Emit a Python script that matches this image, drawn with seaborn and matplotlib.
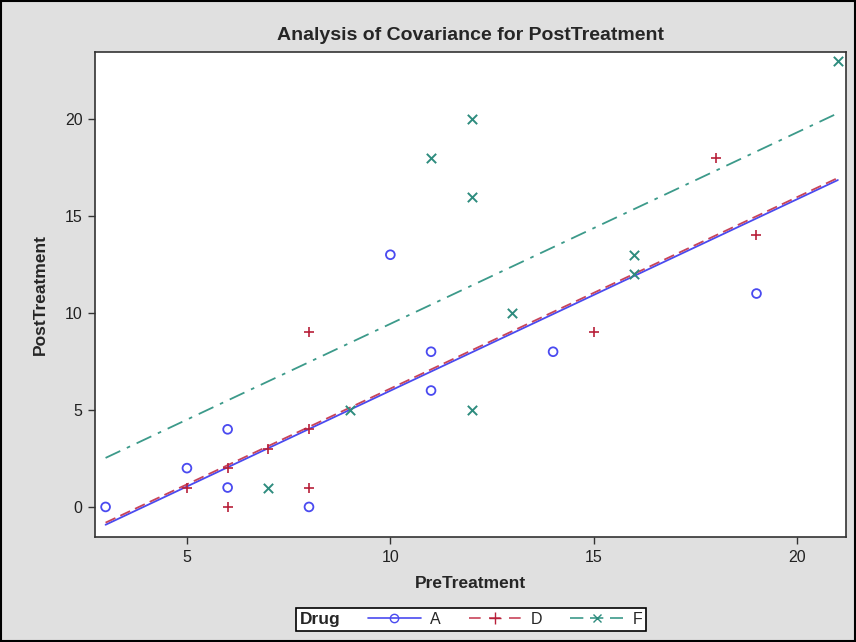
import numpy as np
import pandas as pd
import matplotlib
matplotlib.use("Agg")
import matplotlib.pyplot as plt
import seaborn as sns
from matplotlib.lines import Line2D
from matplotlib.patches import Rectangle

drug_a_pre = [11, 8, 5, 14, 19, 6, 10, 6, 11, 3]
drug_a_post = [6, 0, 2, 8, 11, 4, 13, 1, 8, 0]
drug_d_pre = [6, 6, 7, 8, 18, 8, 19, 8, 5, 15]
drug_d_post = [0, 2, 3, 1, 18, 4, 14, 9, 1, 9]
drug_f_pre = [16, 13, 11, 9, 21, 16, 12, 12, 7, 12]
drug_f_post = [13, 10, 18, 5, 23, 12, 5, 16, 1, 20]
drugs = ["A", "D", "F"]
x_ticks = [5, 10, 15, 20]
y_ticks = [0, 5, 10, 15, 20]

df = pd.DataFrame({
    "PreTreatment": drug_a_pre + drug_d_pre + drug_f_pre,
    "PostTreatment": drug_a_post + drug_d_post + drug_f_post,
    "Drug": ["A"] * len(drug_a_pre) + ["D"] * len(drug_d_pre) + ["F"] * len(drug_f_pre),
})

# ANCOVA fit: common slope, separate intercepts
X = np.column_stack([df["PreTreatment"]] + [(df["Drug"] == d).astype(float) for d in drugs])
coef, *_ = np.linalg.lstsq(X, df["PostTreatment"].to_numpy(float), rcond=None)
slope = coef[0]
xmin, xmax = df["PreTreatment"].min(), df["PreTreatment"].max()
fit_rows = []
for i, d in enumerate(drugs):
    for xv in (xmin, xmax):
        fit_rows.append({"PreTreatment": xv, "PostTreatment": coef[1 + i] + slope * xv, "Drug": d})
fit = pd.DataFrame(fit_rows)

sns.set_theme(style="white")
plt.rcParams["font.family"] = ["Liberation Sans", "DejaVu Sans"]

colors = {"A": "#4A4AF0", "D": "#B8203A", "F": "#2E8C7E"}
line_colors = {"A": "#4A4AF0", "D": "#C8445A", "F": "#3C9A8A"}
styles = {"A": "-", "D": (0, (6, 3)), "F": (0, (9, 4, 2, 4))}

fig = plt.figure(figsize=(8.56, 6.42), dpi=100)
fig.patch.set_facecolor("#E0E0E0")
ax = fig.add_axes([95 / 856, 1 - 537 / 642, (846 - 95) / 856, (537 - 52) / 642])
ax.set_facecolor("white")

for d in drugs:
    sub = fit[fit["Drug"] == d]
    sns.lineplot(data=sub, x="PreTreatment", y="PostTreatment", ax=ax, color=line_colors[d],
                 linestyle=styles[d], linewidth=1.3, legend=False, zorder=2)

pts = df[df["Drug"] == "A"]
sns.scatterplot(data=pts, x="PreTreatment", y="PostTreatment", ax=ax, marker="o", s=40,
                facecolor="none", edgecolor=colors["A"], linewidth=1.3, legend=False, zorder=3)
pts = df[df["Drug"] == "D"]
sns.scatterplot(data=pts, x="PreTreatment", y="PostTreatment", ax=ax, marker="+", s=60,
                color=colors["D"], linewidth=1.2, legend=False, zorder=3)
pts = df[df["Drug"] == "F"]
sns.scatterplot(data=pts, x="PreTreatment", y="PostTreatment", ax=ax, marker="x", s=45,
                color=colors["F"], linewidth=1.4, legend=False, zorder=3)

ax.set_xlim(2.74, 21.2)
ax.set_ylim(-1.55, 23.45)
ax.set_xticks(x_ticks)
ax.set_yticks(y_ticks)
ax.tick_params(axis="both", direction="out", length=5, width=1, color="#333333",
               labelsize=11.5, labelcolor="#222222", bottom=True, left=True, pad=4)
for s in ax.spines.values():
    s.set_color("#333333")
    s.set_linewidth(1.2)
ax.set_xlabel("PreTreatment", fontsize=12.5, fontweight="bold", labelpad=8)
ax.set_ylabel("PostTreatment", fontsize=12.5, fontweight="bold", labelpad=12)
ax.set_title("Analysis of Covariance for PostTreatment", fontsize=14, fontweight="bold", pad=9)

handles = [
    Line2D([], [], color=line_colors["A"], linestyle="-", marker="o", markerfacecolor="none",
           markeredgecolor=colors["A"], markersize=6, linewidth=1.2),
    Line2D([], [], color=line_colors["D"], linestyle=(0, (7, 5)), marker="+",
           markeredgecolor=colors["D"], markersize=8, linewidth=1.2),
    Line2D([], [], color=line_colors["F"], linestyle=(0, (8, 4)), marker="x",
           markeredgecolor=colors["F"], markersize=6, linewidth=1.2),
]
leg = fig.legend(handles, drugs, title="Drug", ncol=3, loc="center",
                 bbox_to_anchor=(471 / 856, 1 - 619.5 / 642), frameon=True, fancybox=False,
                 edgecolor="black", facecolor="white", framealpha=1, fontsize=11.5,
                 handlelength=3.3, columnspacing=0.9, handletextpad=0.6, borderpad=0.25)
leg.get_frame().set_linewidth(1.2)
leg.get_title().set_fontweight("bold")
leg.get_title().set_fontsize(12.5)
try:
    c = leg.get_children()[0]
    title_box = c.get_children()[0]
    hpack = c.get_children()[1]
    c._children = [hpack]
    hpack._children = [title_box] + hpack.get_children()
    hpack.sep = 20
except Exception:
    pass

fig.add_artist(Rectangle((1 / 856, 1 / 642), 854 / 856, 640 / 642, transform=fig.transFigure,
                         fill=False, edgecolor="black", linewidth=1.5))

fig.savefig("out.png", dpi=100, facecolor=fig.get_facecolor())
